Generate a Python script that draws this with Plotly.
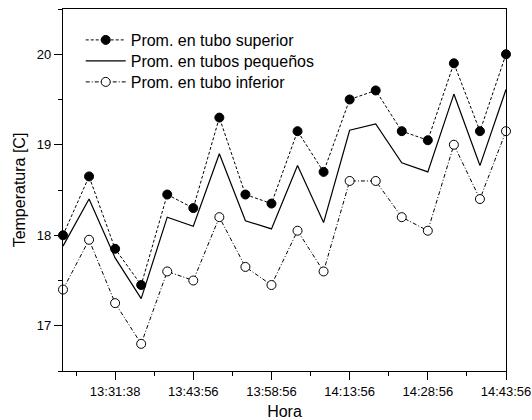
import plotly.graph_objects as go

# Data (sample index along the time axis)
idx = list(range(18))
tick_positions = [2, 5, 8, 11, 14, 17]
tick_labels = ["13:31:38", "13:43:56", "13:58:56", "14:13:56", "14:28:56", "14:43:56"]

tubo_superior = [18.0, 18.65, 17.85, 17.45, 18.45, 18.3, 19.3, 18.45, 18.35,
                 19.15, 18.7, 19.5, 19.6, 19.15, 19.05, 19.9, 19.15, 20.0]
tubos_pequenos = [17.88, 18.4, 17.75, 17.3, 18.2, 18.1, 18.9, 18.16, 18.07,
                  18.77, 18.14, 19.16, 19.23, 18.8, 18.7, 19.56, 18.77, 19.61]
tubo_inferior = [17.4, 17.95, 17.25, 16.8, 17.6, 17.5, 18.2, 17.65, 17.45,
                 18.05, 17.6, 18.6, 18.6, 18.2, 18.05, 19.0, 18.4, 19.15]

names = ["Prom. en tubo superior", "Prom. en tubos pequeños", "Prom. en tubo inferior"]

FONT = "Liberation Sans, Arial, sans-serif"

fig = go.Figure()
fig.add_trace(go.Scatter(
    x=idx, y=tubo_superior, name=names[0], mode="lines+markers",
    line=dict(color="black", width=1, dash="3px,2px"),
    marker=dict(symbol="circle", size=9, color="black", line=dict(color="black", width=1)),
    cliponaxis=False, legend="legend",
))
fig.add_trace(go.Scatter(
    x=idx, y=tubos_pequenos, name=names[1], mode="lines",
    line=dict(color="black", width=1.2),
    cliponaxis=False, legend="legend2",
))
fig.add_trace(go.Scatter(
    x=idx, y=tubo_inferior, name=names[2], mode="lines+markers",
    line=dict(color="black", width=1, dash="4px,2px,1px,2px"),
    marker=dict(symbol="circle", size=9, color="white", line=dict(color="black", width=1)),
    cliponaxis=False, legend="legend3",
))

PLOT_TOP, PLOT_H = 9, 362
def leg(row_center_px):
    return dict(
        x=0.04, y=1 - (row_center_px - PLOT_TOP) / PLOT_H,
        xanchor="left", yanchor="middle",
        bgcolor="rgba(0,0,0,0)", borderwidth=0,
        font=dict(family=FONT, size=16, color="black"),
        itemwidth=40,
    )

fig.update_layout(
    width=532, height=420,
    margin=dict(l=63, r=26, t=PLOT_TOP, b=420 - PLOT_TOP - PLOT_H, autoexpand=False),
    paper_bgcolor="white", plot_bgcolor="white",
    font=dict(family=FONT, color="black", size=13),
    showlegend=True,
    legend=leg(40), legend2=leg(61), legend3=leg(82),
    xaxis=dict(
        range=[0, 17], showgrid=False, zeroline=False, automargin=False,
        showline=True, linecolor="black", linewidth=1.3, mirror=True,
        tickmode="array", tickvals=tick_positions, ticktext=tick_labels,
        ticks="outside", ticklen=8, tickwidth=1.3, tickcolor="black",
        tickfont=dict(size=13),
        minor=dict(tick0=0.5, dtick=1.5, ticks="outside", ticklen=4, tickwidth=1.3, tickcolor="black"),
        title=dict(text="Hora", font=dict(size=16), standoff=14),
    ),
    yaxis=dict(
        range=[16.5, 20.5], showgrid=False, zeroline=False, automargin=False,
        showline=True, linecolor="black", linewidth=1.3, mirror=True,
        tickmode="array", tickvals=[17, 18, 19, 20], ticktext=["17", "18", "19", "20"],
        ticks="outside", ticklen=8, tickwidth=1.3, tickcolor="black",
        tickfont=dict(size=13),
        minor=dict(tick0=16.5, dtick=0.5, ticks="outside", ticklen=4, tickwidth=1.3, tickcolor="black"),
        title=dict(text="Temperatura [C]", font=dict(size=16), standoff=7),
    ),
)

fig.write_html("out.html", config={"displayModeBar": False},
               post_script="document.body.style.margin='0';")
